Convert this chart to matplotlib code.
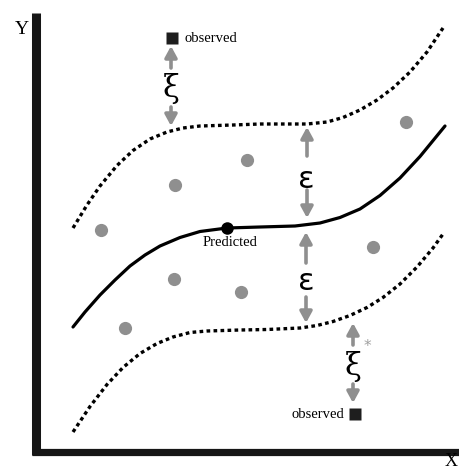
import matplotlib
matplotlib.use("Agg")
import matplotlib.pyplot as plt

# everything is in picture pixel units (y grows downward)
fit_x = [73, 85, 100, 115, 130, 145, 160, 180, 200, 227, 260, 295, 320, 340, 360, 380, 400, 420, 445]
fit_y = [327, 312, 295, 280, 266, 255, 246, 237.5, 231.5, 228, 227, 226, 223, 217.5, 209, 195.5, 178, 156.5, 126]

upper_x = [73, 87, 100, 117, 133, 150, 167, 183, 200, 233, 260, 307, 327, 343, 360, 377, 393, 410, 427, 443]
upper_y = [228, 205, 186, 165.5, 150.5, 139, 132, 128, 126, 125, 124, 124, 122, 117.5, 110, 100, 88, 72, 52, 28]

lower_x = [73, 90, 107, 123, 140, 157, 173, 190, 207, 240, 267, 300, 317, 333, 350, 367, 383, 400, 417, 433, 443]
lower_y = [432, 406.5, 384.5, 367.5, 353.5, 343.5, 337, 332.5, 331, 330, 329.5, 328, 325.5, 321.5, 315.5, 307.5, 297.5, 284, 267, 248, 234]

pts_x = [101, 175, 247, 406, 174, 241, 125, 373]
pts_y = [230, 185, 160, 122, 279, 292, 328, 247]

pred_x, pred_y = 227, 228
obs_x = [172, 355]
obs_y = [38, 414]

serif = ["Liberation Serif", "DejaVu Serif"]
gray = "#8f8f8f"

fig = plt.figure(figsize=(4.6, 4.72), dpi=100)
ax = fig.add_axes([0, 0, 1, 1])
ax.set_xlim(0, 460)
ax.set_ylim(472, 0)
ax.axis("off")

# axes lines
ax.plot([36.5, 36.5], [13, 455], color="#161616", lw=6.5, solid_capstyle="butt")
ax.plot([32, 460], [451.5, 451.5], color="#161616", lw=5.2, solid_capstyle="butt")
ax.text(22, 29, "Y", fontsize=14, family=serif, ha="center", va="center")
ax.text(451, 470, "X", fontsize=13, family=serif, ha="center", va="bottom")

# tube and fit
ax.plot(upper_x, upper_y, color="black", lw=2.4, linestyle=(0, (1.1, 1.0)))
ax.plot(lower_x, lower_y, color="black", lw=2.4, linestyle=(0, (1.1, 1.0)))
ax.plot(fit_x, fit_y, color="black", lw=2.3, solid_capstyle="round", solid_joinstyle="round")

ax.plot(pts_x, pts_y, "o", color=gray, ms=9.5, mec="none")
ax.plot(pred_x, pred_y, "o", color="black", ms=9, mec="none")
ax.plot(obs_x, obs_y, "s", color="#1e1e1e", ms=8.6, mec="none")

ax.text(pred_x + 3, 243, "Predicted", fontsize=10.5, family=serif, ha="center", va="center")
ax.text(185, 38, "observed", fontsize=10.5, family=serif, ha="left", va="center")
ax.text(344, 415, "observed", fontsize=10.5, family=serif, ha="right", va="center")


def arrow(x, y0, y1):
    ax.annotate("", xy=(x, y1), xytext=(x, y0),
                arrowprops=dict(arrowstyle="-|>,head_length=0.55,head_width=0.3",
                                color=gray, lw=2.6, mutation_scale=12,
                                shrinkA=0, shrinkB=0))


arrow(171, 68, 46)
arrow(171, 107, 126)
arrow(307, 156, 127)
arrow(307, 190, 218)
arrow(306, 263, 232)
arrow(306, 297, 323)
arrow(353, 345, 323)
arrow(353, 384, 403)

ax.text(171, 88, "ξ", fontsize=22, family=["DejaVu Serif"], ha="center", va="center")
ax.text(353, 366, "ξ", fontsize=22, family=["DejaVu Serif"], ha="center", va="center")
ax.text(367, 347, "*", fontsize=11, color="#a0a0a0", ha="center", va="center")
ax.text(306, 180, "ε", fontsize=22, family=["DejaVu Sans"], ha="center", va="center")
ax.text(306, 281, "ε", fontsize=22, family=["DejaVu Sans"], ha="center", va="center")

fig.savefig("out.png", dpi=100)
